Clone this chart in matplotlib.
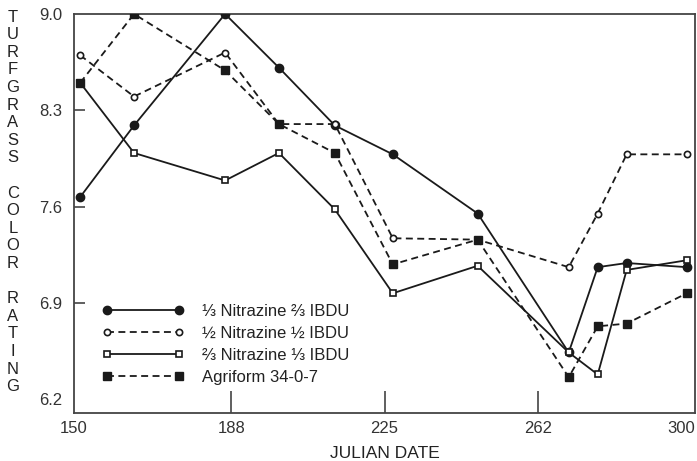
import matplotlib
matplotlib.use('Agg')
import matplotlib.pyplot as plt

plt.rcParams['font.family'] = ['Liberation Sans', 'DejaVu Sans']
plt.rcParams['lines.scale_dashes'] = False

# Julian dates of the ratings
dates = [151.5, 164.5, 186.5, 199.5, 213, 227, 247.5, 269.5, 276.5, 283.5, 298]

# turfgrass color ratings per treatment
third_nitrazine = [7.67, 8.19, 9.00, 8.61, 8.19, 7.98, 7.55, 6.54, 7.16, 7.19, 7.16]
half_nitrazine = [8.70, 8.40, 8.72, 8.20, 8.20, 7.37, 7.36, 7.16, 7.55, 7.98, 7.98]
two_thirds_nitrazine = [8.50, 7.99, 7.79, 7.99, 7.58, 6.97, 7.17, 6.54, 6.38, 7.14, 7.21]
agriform = [8.50, 9.00, 8.59, 8.20, 7.99, 7.18, 7.36, 6.36, 6.73, 6.75, 6.97]

labels = ['⅓ Nitrazine ⅔ IBDU', '½ Nitrazine ½ IBDU',
          '⅔ Nitrazine ⅓ IBDU', 'Agriform 34-0-7']

x_ticks = [150, 188, 225, 262, 300]
y_ticks = [6.2, 6.9, 7.6, 8.3, 9.0]

ink = '#1a1a1a'
dash = (5, 3.2)

fig = plt.figure(figsize=(6.97, 4.61), dpi=100)
ax = fig.add_axes([74 / 697, 1 - 413 / 461, 621 / 697, 399 / 461])

ax.plot(dates, third_nitrazine, color=ink, lw=1.3, marker='o', ms=6,
        mfc=ink, mec=ink, label=labels[0], zorder=3)
ax.plot(dates, half_nitrazine, color=ink, lw=1.3, ls='--', dashes=dash,
        marker='o', ms=4.5, mfc='white', mec=ink, mew=1.2,
        label=labels[1], zorder=3)
ax.plot(dates, two_thirds_nitrazine, color=ink, lw=1.3, marker='s', ms=5,
        mfc='white', mec=ink, mew=1.2, label=labels[2], zorder=3)
ax.plot(dates, agriform, color=ink, lw=1.3, ls='--', dashes=dash,
        marker='s', ms=5.5, mfc=ink, mec=ink, label=labels[3], zorder=3)

ax.set_xlim(150, 300)
ax.set_ylim(6.1, 9.0)
ax.set_xticks(x_ticks)
ax.set_xticklabels([str(t) for t in x_ticks], fontsize=12, color='#333')
ax.set_yticks(y_ticks)
ax.set_yticklabels(['%.1f' % t for t in y_ticks], fontsize=12, color='#333')
ax.tick_params(axis='x', direction='in', length=16, width=1.2,
               color='#444', pad=6)
ax.tick_params(axis='y', direction='in', length=8, width=1.2,
               color='#444', pad=8.5)
for tk in (ax.xaxis.get_major_ticks()[0], ax.xaxis.get_major_ticks()[-1],
           ax.yaxis.get_major_ticks()[0], ax.yaxis.get_major_ticks()[-1]):
    tk.tick1line.set_visible(False)
ax.get_xticklabels()[-1].set_ha('right')
ax.get_xticklabels()[-1].set_x(300)

for sp in ax.spines.values():
    sp.set_color('#444')
    sp.set_linewidth(1.3)

ax.set_xlabel('JULIAN DATE', fontsize=12.5, color='#222', labelpad=7)

# stacked vertical y-axis label
ylabel = 'TURFGRASS COLOR RATING'
for i, ch in enumerate(ylabel):
    fig.text(13 / 697, 1 - (17 + 17.6 * i) / 461, ch, fontsize=12,
             color='#222', ha='center', va='center')

leg = ax.legend(loc='upper left', bbox_to_anchor=(0.035, 0.29),
                frameon=False, fontsize=12, numpoints=2, handlelength=4.9,
                handletextpad=1.1, labelspacing=0.42, borderaxespad=0)
for t in leg.get_texts():
    t.set_color('#222')

fig.savefig('out.png', dpi=100)
